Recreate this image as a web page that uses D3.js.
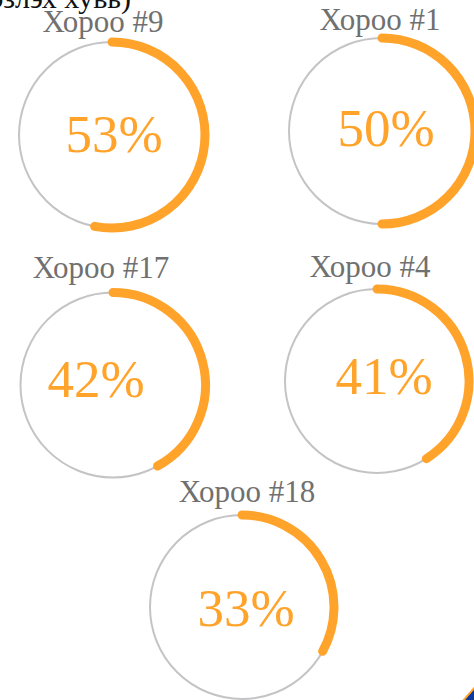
<!DOCTYPE html>
<html lang="mn">
	<head>
		<meta charset="utf-8">
		<title>Хороо - хувь</title>
		<script src="https://d3js.org/d3.v7.min.js"></script>
		<style type="text/css">
		body { margin: 0; background: #fff; }
		svg { display: block; }
		</style>
	</head>
	<body>
		<script type="text/javascript">

			// data
			var labels = ["Хороо #9", "Хороо #1", "Хороо #17", "Хороо #4", "Хороо #18"];
			var values = [53, 50, 42, 41, 33];

			// layout for each gauge: ring centre, title and value anchors
			var layout = [
				{cx: 112, cy: 135, r: 93, tx: 103, ty: 32, vx: 114, vy: 152},
				{cx: 382, cy: 131, r: 93, tx: 380, ty: 30, vx: 386, vy: 146},
				{cx: 113, cy: 385, r: 92.5, tx: 101, ty: 278, vx: 96, vy: 397},
				{cx: 377, cy: 381, r: 92, tx: 370, ty: 277, vx: 384, vy: 394},
				{cx: 242, cy: 607, r: 92, tx: 247, ty: 502, vx: 246, vy: 626}
			];

			var w = 474;
			var h = 700;
			var orange = "#ffa32b";

			var angle = d3.scaleLinear()
							.domain([0, 100])
							.range([0, 2 * Math.PI]);

			var svg = d3.select("body")
						.append("svg")
						.attr("width", w)
						.attr("height", h);

			// tail of the subtitle, cut off by the top edge
			svg.append("text")
				.attr("x", 131)
				.attr("y", 8)
				.attr("text-anchor", "end")
				.style("font-family", "'Liberation Serif', serif")
				.style("font-size", "30px")
				.style("fill", "#111")
				.text("(эзлэх хувь)");

			var g = svg.selectAll("g.gauge")
						.data(values)
						.enter()
						.append("g")
						.attr("class", "gauge")
						.attr("transform", function(d, i) {
							return "translate(" + layout[i].cx + "," + layout[i].cy + ")";
						});

			// grey ring
			g.append("circle")
				.attr("r", function(d, i) { return layout[i].r; })
				.style("fill", "none")
				.style("stroke", "#c4c4c6")
				.style("stroke-width", 2);

			// value arc, clockwise from 12 o'clock
			g.append("path")
				.attr("d", function(d, i) {
					var p = d3.path();
					var a0 = -Math.PI / 2;
					var r = layout[i].r;
					p.moveTo(r * Math.cos(a0), r * Math.sin(a0));
					p.arc(0, 0, r, a0, a0 + angle(d));
					return p.toString();
				})
				.style("fill", "none")
				.style("stroke", orange)
				.style("stroke-width", 9)
				.style("stroke-linecap", "round");

			// titles
			g.append("text")
				.attr("x", function(d, i) { return layout[i].tx - layout[i].cx; })
				.attr("y", function(d, i) { return layout[i].ty - layout[i].cy; })
				.attr("text-anchor", "middle")
				.style("font-family", "'Liberation Serif', serif")
				.style("font-size", "31px")
				.style("fill", "#707070")
				.text(function(d, i) { return labels[i]; });

			// percent values
			g.append("text")
				.attr("x", function(d, i) { return layout[i].vx - layout[i].cx; })
				.attr("y", function(d, i) { return layout[i].vy - layout[i].cy; })
				.attr("text-anchor", "middle")
				.style("font-family", "'Liberation Serif', serif")
				.style("font-size", "53px")
				.style("fill", orange)
				.text(function(d) { return d + "%"; });

			// corner decoration bottom right
			svg.append("path")
				.attr("d", "M462,702 L476,686 L476,702 Z")
				.style("fill", "#0c3a9c")
				.style("stroke", orange)
				.style("stroke-width", 2);

		</script>
	</body>
</html>
